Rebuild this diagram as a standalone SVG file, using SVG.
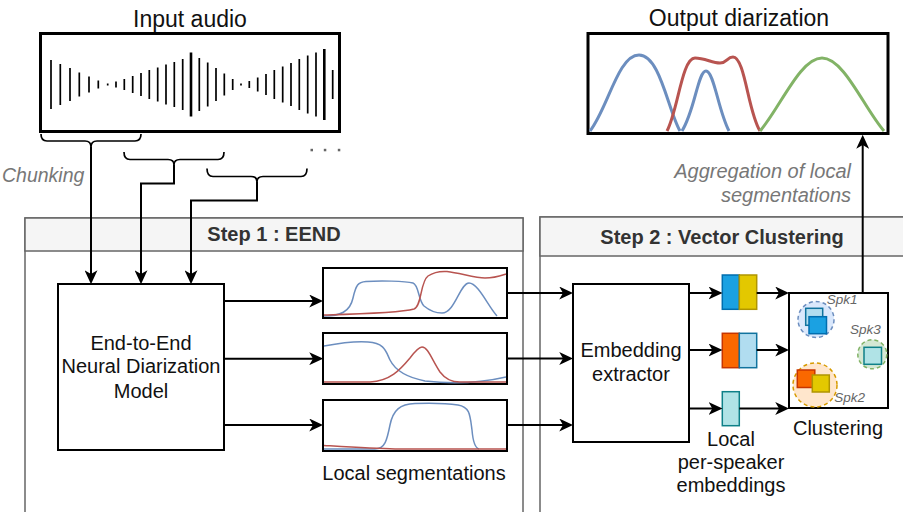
<svg xmlns="http://www.w3.org/2000/svg" width="903" height="512" viewBox="0 0 903 512">
<style>
text{font-family:"Liberation Sans",Arial,Helvetica,sans-serif;fill:#111}
.t20{font-size:20px}
.t23{font-size:23px}
.mid{text-anchor:middle}
.it{font-style:italic;fill:#777}
.hd{font-size:20px;font-weight:bold;fill:#333;text-anchor:middle}
.spk{font-size:13.5px;font-style:italic;fill:#666}
.box{fill:#fff;stroke:#000;stroke-width:2}
.thick{fill:#fff;stroke:#000;stroke-width:3}
.panel{fill:#fff;stroke:#666;stroke-width:1.5}
.phead{fill:#f5f5f5;stroke:#666;stroke-width:1.5}
.con{fill:none;stroke:#000;stroke-width:2}
.brace{fill:none;stroke:#000;stroke-width:1.7}
.blue{fill:none;stroke:#6c8ebf;stroke-width:1.5}
.red{fill:none;stroke:#b85450;stroke-width:1.5}
.oblue{fill:none;stroke:#6c8ebf;stroke-width:3}
.ored{fill:none;stroke:#b85450;stroke-width:3}
.ogreen{fill:none;stroke:#82b366;stroke-width:3}
.cb{fill:#1ba1e2;stroke:#006eaf;stroke-width:1.5}
.cy{fill:#e3c800;stroke:#b09500;stroke-width:1.5}
.co{fill:#fa6800;stroke:#c73500;stroke-width:1.5}
.cl{fill:#b1ddf0;stroke:#10739e;stroke-width:1.5}
.ct{fill:#b0e3e6;stroke:#0e8088;stroke-width:1.5}
.dash{stroke-width:1.5;stroke-dasharray:4 3}
</style>
<defs>
<marker id="arr" markerUnits="userSpaceOnUse" markerWidth="14" markerHeight="13" viewBox="0 0 13 12" refX="10" refY="6" orient="auto">
<path d="M0,0 L13,6 L0,12 L3.5,6 Z" fill="#000"/>
</marker>
</defs>
<rect width="903" height="512" fill="#fff"/>

<g id="step1-panel">
<rect class="panel" x="25" y="218" width="498" height="310"/>
<rect class="phead" x="25" y="218" width="498" height="33"/>
<text class="hd" x="274" y="241">Step 1 : EEND</text>
</g>
<g id="step2-panel">
<rect class="panel" x="540" y="217" width="380" height="310"/>
<rect class="phead" x="540" y="217" width="380" height="39"/>
<text class="hd" x="722" y="244">Step 2 : Vector Clustering</text>
</g>

<g id="input-audio">
<text class="t23 mid" x="190" y="27">Input audio</text>
<rect class="thick" x="40.5" y="33.5" width="299" height="98"/>
<path fill="none" stroke="#000" stroke-width="1.7" d="M51,60V109M60.3,64V105M70,68V101M79.3,72.5V96.5M89,76.5V92.5M98.3,80.5V88.5M107.7,83.5V85.5M116,81.5V87.5M124.3,79V90M132.7,76V93M141,73V96M149.3,70V99M157.7,67.5V101.5M166,64.5V104.5M174.3,62V107M182.7,59V110M199.3,58V111M207.7,62.5V106.5M216,68V101M224.3,73.5V95.5M232.7,79V90M241,83.5V85.5M249.3,81V88M257.7,77.5V91.5M266,74V95M274.3,70V99M282.7,66.5V102.5M291,63V106M299.3,59V110M307.7,55.5V113.5M316,52.5V116.5M332.7,70V99"/>
<path fill="none" stroke="#000" stroke-width="2.6" d="M191,52.5V116.5M324.3,49V120"/>
</g>

<g id="chunks">
<path class="brace" d="M41,134 Q41,141 47,141 L85,141 Q91,141 91,147 Q91,141 97,141 L135,141 Q141,141 141,134"/>
<path class="brace" d="M124,152 Q124,159.5 130,159.5 L168,159.5 Q174,159.5 174,165 Q174,159.5 180,159.5 L218,159.5 Q224,159.5 224,152"/>
<path class="brace" d="M207,168.5 Q207,176.5 213,176.5 L251,176.5 Q257,176.5 257,182 Q257,176.5 263,176.5 L301,176.5 Q307,176.5 307,168.5"/>
<rect x="310.5" y="148.8" width="2.5" height="2.5" fill="#666"/>
<rect x="323.8" y="148.8" width="2.5" height="2.5" fill="#666"/>
<rect x="337.8" y="148.8" width="2.5" height="2.5" fill="#666"/>
<text class="it" x="2" y="182" style="font-size:19.5px">Chunking</text>
</g>

<g id="output-diarization">
<text class="t23 mid" x="739" y="26">Output diarization</text>
<rect class="thick" x="588" y="33.5" width="300" height="100"/>
<path class="oblue" d="M590,131 C608,108 618,55 639,55 C660,55 668,110 680,131"/>
<path class="ored" d="M667,131 C678,110 682,58 695,58 C705,58 712,63 720,63 C727,63 727,57 733,57 C745,57 748,112 760,131"/>
<path class="oblue" d="M682,131 C695,110 698,71 706,71 C714,71 718,110 729,131"/>
<path class="ogreen" d="M760,131 C780,108 800,58 822,58 C844,58 864,108 884,131"/>
<text class="it t20" x="851" y="178" text-anchor="end">Aggregation of local</text>
<text class="it t20" x="851" y="202" text-anchor="end">segmentations</text>
</g>

<g id="eend-model">
<rect class="box" x="58" y="284" width="166" height="166"/>
<text class="t20 mid" x="141" y="350">End-to-End</text>
<text class="t20 mid" x="141" y="373">Neural Diarization</text>
<text class="t20 mid" x="141" y="398">Model</text>
</g>

<g id="seg1">
<rect class="box" x="323" y="268" width="184" height="50"/>
<path class="blue" d="M324,316 C340,316 350,312 353,298 C356,285 358,282 366,281.5 C380,280.5 405,281 413,283 C419,285 418,300 424,306 C430,311 436,313 442,313 C455,313 460,283 469,283 C478,283 488,306 497,316"/>
<path class="red" d="M324,315 C360,314 400,313 414,309 C422,306 420,282 428,276 C434,272 440,271 447,271.5 C460,273 475,278 485,278 C495,278 500,276 506,274"/>
</g>
<g id="seg2">
<rect class="box" x="323" y="333" width="184" height="51"/>
<path class="blue" d="M324,346 C340,343 355,341 368,342 C385,343 386,352 390,360 C395,370 405,377 425,381 C450,384 480,383 506,377"/>
<path class="red" d="M324,382 L370,382 C390,381 400,370 410,358 C416,350 419,347 422,347 C428,347 432,360 440,372 C446,380 452,382 460,382 L506,382"/>
</g>
<g id="seg3">
<rect class="box" x="323" y="400" width="184" height="51"/>
<path class="blue" d="M324,449 L375,449 C385,449 387,440 390,425 C393,410 400,404 415,403.5 C430,403 445,403 458,405 C470,407 470,415 472,430 C473,442 475,448 479,449"/>
<path class="red" d="M324,445.5 C350,447 375,448.5 395,449 L506,449"/>
<text class="t20 mid" x="414" y="480">Local segmentations</text>
</g>

<g id="embedding-extractor">
<rect class="box" x="573" y="284" width="116" height="158"/>
<text class="t20 mid" x="631" y="357">Embedding</text>
<text class="t20 mid" x="631" y="381">extractor</text>
</g>

<g id="emb1">
<rect class="cb" x="722.3" y="275" width="17" height="34.3"/>
<rect class="cy" x="739.3" y="275" width="17.4" height="34.3"/>
</g>
<g id="emb2">
<rect class="co" x="722.3" y="333.3" width="17" height="34.4"/>
<rect class="cl" x="739.3" y="333.3" width="17.4" height="34.4"/>
</g>
<g id="emb3">
<rect class="ct" x="722.3" y="391.7" width="17" height="34"/>
<text class="t20 mid" x="731" y="446">Local</text>
<text class="t20 mid" x="731" y="469">per-speaker</text>
<text class="t20 mid" x="731" y="492">embeddings</text>
</g>

<g id="clustering">
<rect class="box" x="789" y="293" width="99" height="115"/>
<circle class="dash" cx="816" cy="319.5" r="18" fill="#dae8fc" stroke="#6c8ebf"/>
<rect class="cl" x="805.7" y="308.3" width="17" height="17"/>
<rect class="cb" x="809" y="316.7" width="17.5" height="17"/>
<circle class="dash" cx="872.3" cy="354.3" r="14.5" fill="#d5e8d4" stroke="#82b366"/>
<rect class="ct" x="864" y="347.3" width="17.5" height="17"/>
<circle class="dash" cx="815" cy="385" r="22" fill="#ffe6cc" stroke="#d79b00"/>
<rect class="co" x="797.3" y="370" width="17.5" height="17.5"/>
<rect class="cy" x="812.3" y="375" width="17" height="17"/>
<text class="spk" x="826.7" y="304">Spk1</text>
<text class="spk" x="850" y="334.3">Spk3</text>
<text class="spk" x="834.3" y="401.7">Spk2</text>
<text class="t20 mid" x="838" y="435">Clustering</text>
</g>

<g id="connectors">
<path class="con" d="M91,147 V281" marker-end="url(#arr)"/>
<path class="con" d="M174,165 V183.5 H141 V281" marker-end="url(#arr)"/>
<path class="con" d="M257,182 V200.5 H191 V281" marker-end="url(#arr)"/>
<path class="con" d="M224,301 H320" marker-end="url(#arr)"/>
<path class="con" d="M224,358.7 H320" marker-end="url(#arr)"/>
<path class="con" d="M224,425 H320" marker-end="url(#arr)"/>
<path class="con" d="M507,293 H570" marker-end="url(#arr)"/>
<path class="con" d="M507,358.5 H570" marker-end="url(#arr)"/>
<path class="con" d="M507,425 H570" marker-end="url(#arr)"/>
<path class="con" d="M689,293 H719.3" marker-end="url(#arr)"/>
<path class="con" d="M689,350 H719.3" marker-end="url(#arr)"/>
<path class="con" d="M689,408.5 H719.3" marker-end="url(#arr)"/>
<path class="con" d="M756.7,293 H786" marker-end="url(#arr)"/>
<path class="con" d="M756.7,350 H786" marker-end="url(#arr)"/>
<path class="con" d="M739.3,408.5 H786" marker-end="url(#arr)"/>
<path class="con" d="M862.7,293 V138" marker-end="url(#arr)"/>
</g>
</svg>
